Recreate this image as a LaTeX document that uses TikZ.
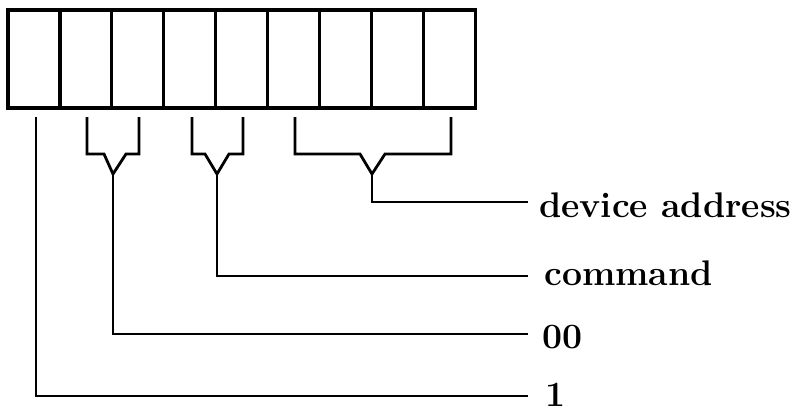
\documentclass[tikz,border=0pt]{standalone}
\begin{document}
\begin{tikzpicture}[x=1pt,y=-1pt,
  cell/.style={draw,line width=3.2pt,minimum width=51.9pt,minimum height=98pt,inner sep=0pt,outer sep=0pt},
  wire/.style={line width=2.8pt,line join=miter},
  lbl/.style={anchor=base west,inner sep=0pt,font=\fontsize{35.6}{40}\selectfont\bfseries}]
\useasboundingbox (0,0) rectangle (797,408);
% register cells
\foreach \i in {1,...,9}{
  \node[cell] (c\i) at ({8+51.9*(\i-0.5)},59) {};
}
% labels
\node[lbl] (ldev) at (539,217) {device address};
\node[lbl] (lcmd) at (544,285) {command};
\node[lbl] (lzz) at (542,348) {00};
\node[lbl] (lone) at (545,406) {1};
% end points of the leader lines
\coordinate (edev) at (528,202);
\coordinate (ecmd) at (528,276);
\coordinate (ezz) at (528,334);
\coordinate (eone) at (528,396);
% bit 1
\coordinate (t1) at (36,117);
\draw[wire] (t1) |- (eone);
% bracket over bits 2-3
\coordinate (ya) at (113,174);
\draw[wire] (87,117) -- (87,154) -- (104,154) -- (ya) -- (126,154) -- (139,154) -- (139,117);
\draw[wire] (ya) |- (ezz);
% bracket over bits 4-5
\coordinate (yb) at (217,174);
\draw[wire] (192,117) -- (192,154) -- (205,154) -- (yb) -- (229,154) -- (243,154) -- (243,117);
\draw[wire] (yb) |- (ecmd);
% bracket over bits 6-9
\coordinate (yc) at (372,174);
\draw[wire] (295,117) -- (295,154) -- (360,154) -- (yc) -- (385,154) -- (451,154) -- (451,117);
\draw[wire] (yc) |- (edev);
\end{tikzpicture}
\end{document}
